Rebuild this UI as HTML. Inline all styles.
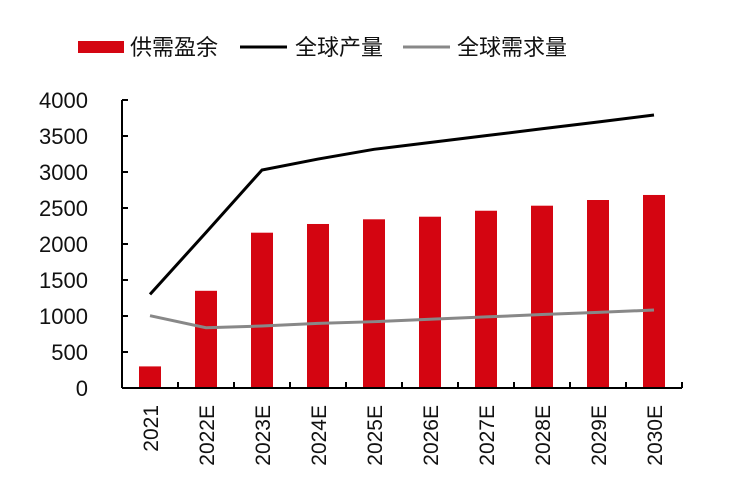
<!DOCTYPE html>
<html><head><meta charset="utf-8"><style>
html,body{margin:0;padding:0;background:#fff;}
svg{display:block;font-family:"Liberation Sans","Noto Sans CJK SC",sans-serif;}
</style></head><body>
<svg id="chart" width="750" height="500" viewBox="0 0 750 500">
<g id="legend">
  <rect x="78" y="41" width="46" height="12" fill="#d40511"/>
  <text x="130" y="55" font-size="22" fill="#111">供需盈余</text>
  <line x1="240" y1="47" x2="287" y2="47" stroke="#000" stroke-width="3"/>
  <text x="295" y="55" font-size="22" fill="#111">全球产量</text>
  <line x1="403" y1="47" x2="450" y2="47" stroke="#888" stroke-width="3"/>
  <text x="457" y="55" font-size="22" fill="#111">全球需求量</text>
</g>
<g id="plot"></g>
</svg>
<script>
const categories=["2021","2022E","2023E","2024E","2025E","2026E","2027E","2028E","2029E","2030E"];
const surplus=[300,1350,2157,2278,2343,2379,2462,2532,2611,2681];
const production=[1300,2160,3028,3180,3315,3410,3505,3600,3695,3792];
const demand=[1004,837,861,898,921,955,987,1020,1050,1083];
const yTicks=[0,500,1000,1500,2000,2500,3000,3500,4000];
const NS="http://www.w3.org/2000/svg";
const x0=122,step=56,yBase=388,yTop=100,yMax=4000;
const xc=i=>x0+step*(i+0.5);
const y=v=>yBase-(v/yMax)*(yBase-yTop);
const g=document.getElementById('plot');
function mk(t,a){const e=document.createElementNS(NS,t);for(const k in a)e.setAttribute(k,a[k]);g.appendChild(e);return e;}
categories.forEach((c,i)=>{
  const r=mk('rect',{x:xc(i)-11,y:y(surplus[i]),width:22,height:yBase-y(surplus[i]),fill:'#d40511'});
  
  
});
const pl=mk('polyline',{points:production.map((v,i)=>xc(i)+','+y(v)).join(' '),fill:'none',stroke:'#000','stroke-width':3});


const dl=mk('polyline',{points:demand.map((v,i)=>xc(i)+','+y(v)).join(' '),fill:'none',stroke:'#888','stroke-width':3});


const ya=mk('line',{x1:x0,y1:yTop,x2:x0,y2:yBase,stroke:'#000','stroke-width':2});


const xa=mk('line',{x1:x0,y1:yBase,x2:x0+step*categories.length,y2:yBase,stroke:'#000','stroke-width':2});


yTicks.forEach(v=>{
  const t=mk('line',{x1:x0,y1:y(v),x2:x0+6,y2:y(v),stroke:'#000','stroke-width':2});
  
  
  const l=mk('text',{x:88,y:y(v)+8,'font-size':22,'text-anchor':'end',fill:'#111'});
  l.textContent=v;
  
  
});
categories.forEach((c,i)=>{
  const t=mk('line',{x1:x0+step*(i+1),y1:yBase,x2:x0+step*(i+1),y2:yBase-6,stroke:'#000','stroke-width':2});
  
  
  const l=mk('text',{x:0,y:0,'font-size':21,'text-anchor':'end',fill:'#111',transform:`translate(${xc(i)+8},405) rotate(-90)`});
  l.textContent=c;
  
  
});
</script>
</body></html>
